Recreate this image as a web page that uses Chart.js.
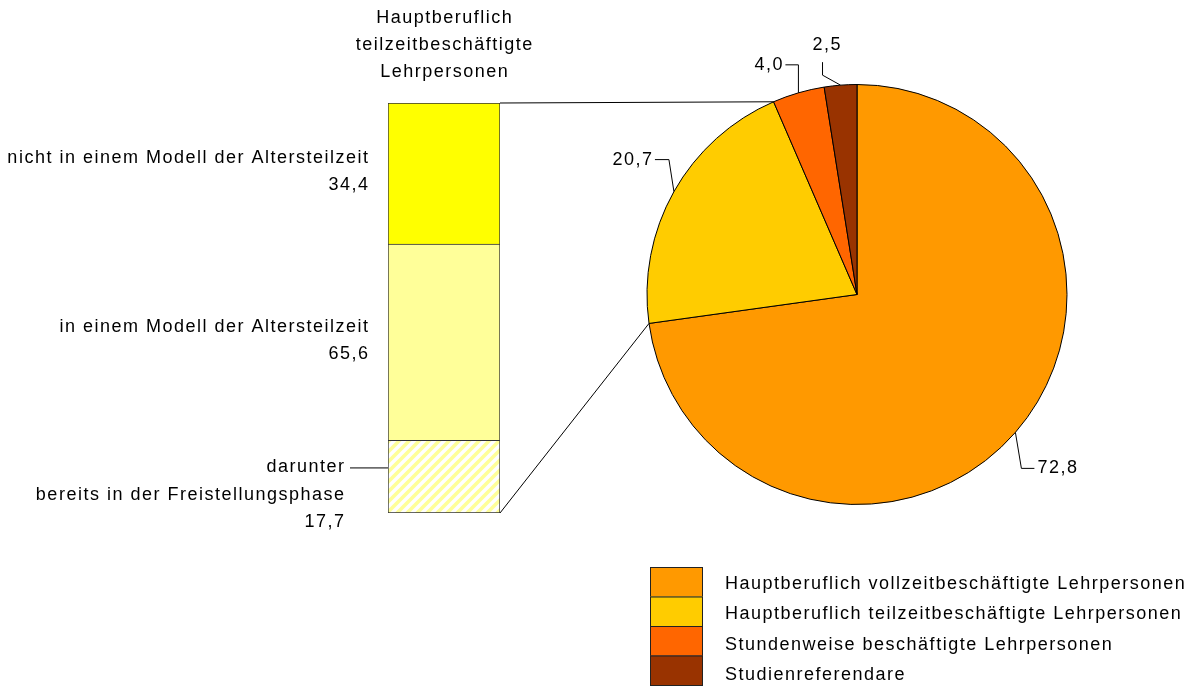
<!DOCTYPE html>
<html>
<head>
<meta charset="utf-8">
<script src="https://cdn.jsdelivr.net/npm/chart.js@4/dist/chart.umd.min.js"></script>
<style>
  html, body { margin: 0; padding: 0; background: #fff; }
  #wrap { position: relative; width: 1196px; height: 688px; }
  canvas { position: absolute; left: 0; top: 0; }
</style>
</head>
<body>
<div id="wrap">
  <canvas id="pie" width="1196" height="688"></canvas>
  <canvas id="bar" width="1196" height="688"></canvas>
</div>
<script>
// ---- data ----
const pieLabels = [
  'Hauptberuflich vollzeitbeschäftigte Lehrpersonen',
  'Hauptberuflich teilzeitbeschäftigte Lehrpersonen',
  'Stundenweise beschäftigte Lehrpersonen',
  'Studienreferendare'
];
const pieValues = [72.8, 20.7, 4.0, 2.5];
const pieColors = ['#FF9900', '#FFCC00', '#FF6600', '#993300'];

const barTitle = ['Hauptberuflich', 'teilzeitbeschäftigte', 'Lehrpersonen'];
const barLabels = ['nicht in einem Modell der Altersteilzeit', 'in einem Modell der Altersteilzeit'];
const barValues = [34.4, 65.6];
const subLabel = ['darunter', 'bereits in der Freistellungsphase'];
const subValue = 17.7;
const explodedSlice = 1;

// ---- helpers ----
const FONT = '18px "Liberation Sans", Arial, sans-serif';
const LS = 1.5; // letter spacing px
const fmt = v => v.toFixed(1).replace('.', ',');

function setFont(ctx) {
  ctx.font = FONT;
  try { ctx.letterSpacing = LS + 'px'; } catch (e) {}
}
// draw text compensating trailing letter-spacing for right/center alignment
function text(ctx, s, x, y, align) {
  ctx.textAlign = align;
  let dx = 0;
  if (align === 'right') dx = LS;
  else if (align === 'center') dx = LS / 2;
  ctx.fillText(s, x + dx, y);
}

function hatchPattern() {
  const c = document.createElement('canvas');
  c.width = 10; c.height = 10;
  const g = c.getContext('2d');
  g.fillStyle = '#ffffff';
  g.fillRect(0, 0, 10, 10);
  g.strokeStyle = '#FFFF99';
  g.lineWidth = 3.6;
  g.beginPath();
  g.moveTo(-5, 5); g.lineTo(5, -5);
  g.moveTo(0, 10); g.lineTo(10, 0);
  g.moveTo(5, 15); g.lineTo(15, 5);
  g.stroke();
  return g.createPattern(c, 'repeat');
}

// leader line shapes (style only), relative to slice edge midpoint
const leaderStyle = [
  { pts: [[0, 0], [6, 36], [19, 36]], text: [22, 36], align: 'left' },
  { pts: [[0, 0], [-5, -32], [-19, -32]], text: [-22, -32], align: 'right' },
  { pts: [[0, 0], [0, -28], [-13, -28]], text: [-16, -28], align: 'right' },
  { pts: [[0, 0], [-18, -10], [-18, -23]], text: [-14, -40], align: 'center' }
];

function arcPoint(arc, angle, r) {
  return { x: arc.x + Math.cos(angle) * r, y: arc.y + Math.sin(angle) * r };
}

// ---- pie chart ----
const piePlugin = {
  id: 'pieExtras',
  afterDraw(chart) {
    const ctx = chart.ctx;
    const meta = chart.getDatasetMeta(0);
    ctx.save();
    setFont(ctx);
    ctx.fillStyle = '#000';
    ctx.strokeStyle = '#000';
    ctx.lineWidth = 1;
    meta.data.forEach((arc, i) => {
      const mid = (arc.startAngle + arc.endAngle) / 2;
      const p = arcPoint(arc, mid, arc.outerRadius);
      const st = leaderStyle[i];
      ctx.beginPath();
      st.pts.forEach((q, k) => {
        const x = p.x + q[0], y = p.y + q[1];
        if (k === 0) ctx.moveTo(x, y); else ctx.lineTo(x, y);
      });
      ctx.stroke();
      ctx.textBaseline = 'middle';
      text(ctx, fmt(pieValues[i]), p.x + st.text[0], p.y + st.text[1], st.align);
    });
    // legend
    const bx = 650, by = 567, bw = 53, bh = 29.5;
    pieLabels.forEach((lab, i) => {
      ctx.fillStyle = pieColors[i];
      ctx.fillRect(bx, by + i * bh, bw, bh);
      ctx.strokeStyle = '#222';
      ctx.strokeRect(bx + 0.5, by + i * bh + 0.5, bw - 1, bh);
      ctx.fillStyle = '#000';
      ctx.textBaseline = 'middle';
      text(ctx, lab, 725, 584 + i * 30.5, 'left');
    });
    ctx.restore();
  }
};

const pieChart = new Chart(document.getElementById('pie'), {
  type: 'pie',
  data: {
    labels: pieLabels,
    datasets: [{
      data: pieValues,
      backgroundColor: pieColors,
      borderColor: '#000',
      borderWidth: 1
    }]
  },
  options: {
    responsive: false,
    animation: false,
    layout: { padding: { left: 646, right: 128, top: 84, bottom: 183 } },
    plugins: { legend: { display: false }, tooltip: { enabled: false } }
  },
  plugins: [piePlugin]
});

// ---- bar chart ----
const barPlugin = {
  id: 'barExtras',
  afterDraw(chart) {
    const ctx = chart.ctx;
    const m0 = chart.getDatasetMeta(0).data[0]; // hatched
    const m1 = chart.getDatasetMeta(1).data[0]; // light
    const m2 = chart.getDatasetMeta(2).data[0]; // yellow
    const left = m2.x - m2.width / 2, right = m2.x + m2.width / 2;
    ctx.save();
    setFont(ctx);
    ctx.fillStyle = '#000';
    ctx.textBaseline = 'middle';
    // title
    barTitle.forEach((t, k) => text(ctx, t, m2.x, 18 + k * 27, 'center'));
    // labels
    const c2 = (m2.y + m2.base) / 2;
    text(ctx, barLabels[0], left - 20, c2 - 15, 'right');
    text(ctx, fmt(barValues[0]), left - 20, c2 + 12, 'right');
    const c1 = (m1.y + m1.base) / 2;
    text(ctx, barLabels[1], left - 20, c1 - 15, 'right');
    text(ctx, fmt(barValues[1]), left - 20, c1 + 12, 'right');
    const t0 = m0.y;
    text(ctx, subLabel[0], left - 44, t0 + 27, 'right');
    text(ctx, subLabel[1], left - 44, t0 + 55, 'right');
    text(ctx, fmt(subValue), left - 44, t0 + 82, 'right');
    ctx.strokeStyle = '#000';
    ctx.lineWidth = 1;
    ctx.beginPath();
    ctx.moveTo(left - 38, t0 + 27.5);
    ctx.lineTo(left, t0 + 27.5);
    ctx.stroke();
    // connectors to the exploded pie slice
    const arc = pieChart.getDatasetMeta(0).data[explodedSlice];
    const pTop = arcPoint(arc, arc.endAngle, arc.outerRadius);
    const pBot = arcPoint(arc, arc.startAngle, arc.outerRadius);
    ctx.beginPath();
    ctx.moveTo(right, m2.y);
    ctx.lineTo(pTop.x, pTop.y);
    ctx.moveTo(right, m0.base);
    ctx.lineTo(pBot.x, pBot.y);
    ctx.stroke();
    ctx.restore();
  }
};

const barChart = new Chart(document.getElementById('bar'), {
  type: 'bar',
  data: {
    labels: [''],
    datasets: [
      { data: [subValue], backgroundColor: hatchPattern(), borderColor: '#333', borderWidth: 1, borderSkipped: false },
      { data: [barValues[1] - subValue], backgroundColor: '#FFFF99', borderColor: '#333', borderWidth: 1 },
      { data: [barValues[0]], backgroundColor: '#FFFF00', borderColor: '#333', borderWidth: 1 }
    ]
  },
  options: {
    responsive: false,
    animation: false,
    datasets: { bar: { barPercentage: 1, categoryPercentage: 1 } },
    layout: { padding: { left: 388, right: 696, top: 103, bottom: 175 } },
    scales: {
      x: { display: false, stacked: true },
      y: { display: false, stacked: true, min: 0, max: 100 }
    },
    plugins: { legend: { display: false }, tooltip: { enabled: false } }
  },
  plugins: [barPlugin]
});
</script>
</body>
</html>
